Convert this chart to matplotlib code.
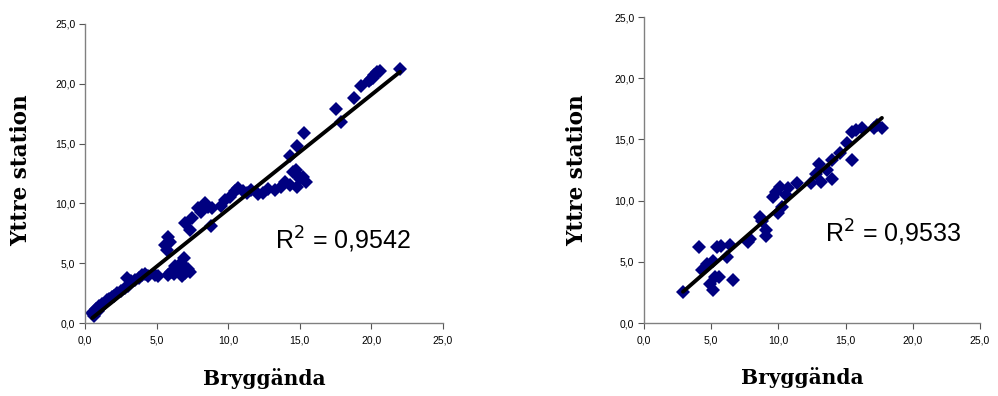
import numpy as np
import matplotlib
matplotlib.use('Agg')
import matplotlib.pyplot as plt

# Avlästa värden, vänster diagram
x1 = [0.5, 0.6, 0.7, 0.8, 0.9, 1.0, 1.1, 1.2, 1.4, 1.5, 1.7, 1.9, 2.0, 2.2, 2.5, 2.8,
      3.0, 2.9, 3.2, 3.5, 3.8, 4.0, 4.2, 4.4, 4.9, 5.1,
      5.6, 5.7, 5.8, 5.9, 5.8, 6.0, 6.2, 6.3, 6.5, 6.7, 6.9, 7.0, 7.2, 7.3, 6.8, 6.6,
      7.0, 7.3, 7.5, 7.9, 8.1, 8.4, 8.6, 8.9, 8.8,
      9.5, 9.8, 10.1, 10.5, 10.7, 11.0, 11.3, 11.6, 12.1, 12.4, 12.8, 13.3, 13.7, 14.0,
      14.3, 14.5, 14.7, 14.9, 15.2, 15.4, 14.8, 15.0,
      14.3, 14.8, 15.3, 17.5, 17.9, 18.8, 19.3, 19.8, 20.2, 20.4, 20.1, 20.0, 20.3, 20.6, 22.0]
y1 = [0.8, 0.6, 0.9, 1.2, 1.0, 1.4, 1.3, 1.6, 1.7, 1.9, 2.0, 2.2, 2.3, 2.5, 2.7, 2.9,
      3.1, 3.8, 3.5, 3.6, 3.8, 4.0, 4.1, 3.9, 4.0, 3.9,
      6.5, 6.1, 7.2, 6.8, 4.0, 4.3, 4.1, 4.8, 4.5, 5.0, 5.4, 4.2, 4.5, 4.3, 3.9, 4.6,
      8.4, 7.8, 8.8, 9.6, 9.3, 10.0, 9.7, 9.6, 8.1,
      9.8, 10.3, 10.5, 11.0, 11.3, 11.0, 10.9, 11.1, 10.8, 10.9, 11.2, 11.1, 11.4, 11.8,
      11.5, 12.6, 12.8, 12.3, 12.2, 11.8, 11.4, 12.0,
      14.0, 14.8, 15.9, 17.9, 16.8, 18.8, 19.8, 20.2, 20.7, 21.0, 20.5, 20.4, 20.8, 21.1, 21.2]

# Avlästa värden, höger diagram
x2 = [2.9, 4.1, 4.3, 4.7, 5.1, 5.1, 4.9, 5.3, 5.6, 5.4, 5.7, 6.4, 6.2, 6.6,
      7.7, 7.9, 8.6, 8.8, 9.1, 9.1, 9.6, 9.8, 10.1, 10.0, 10.3, 10.6, 10.7,
      11.4, 12.4, 12.8, 13.0, 13.2, 13.6, 14.0, 14.0, 14.6, 15.1, 15.5, 15.8,
      15.5, 16.2, 17.1, 17.7, 17.3]
y2 = [2.5, 6.2, 4.3, 4.8, 5.1, 2.7, 3.2, 3.8, 3.8, 6.2, 6.3, 6.4, 5.4, 3.5,
      6.6, 6.9, 8.7, 8.3, 7.6, 7.1, 10.3, 10.7, 11.1, 9.0, 9.5, 10.5, 11.0,
      11.4, 11.4, 12.2, 13.0, 11.5, 12.5, 11.8, 13.3, 13.9, 14.7, 15.6, 15.8,
      13.3, 15.9, 15.9, 15.9, 16.2]

r2_labels = ['0,9542', '0,9533']
ticks = [0, 5, 10, 15, 20, 25]
tick_labels = ['0,0', '5,0', '10,0', '15,0', '20,0', '25,0']

fig = plt.figure(figsize=(9.98, 3.96), dpi=100)
ax1 = fig.add_axes([0.0852, 0.1843, 0.3587, 0.7551])
ax2 = fig.add_axes([0.6453, 0.1843, 0.3367, 0.7727])

serif = ['DejaVu Serif']
sans = ['Liberation Sans', 'DejaVu Sans']

for ax, xs, ys, r2, txt_pos in [
        (ax1, x1, y1, r2_labels[0], (0.53, 0.278)),
        (ax2, x2, y2, r2_labels[1], (0.539, 0.294))]:
    xs = np.array(xs)
    ys = np.array(ys)
    ax.plot(xs, ys, linestyle='none', marker='D', markersize=7.5,
            color='#000080', markeredgewidth=0)
    k, m = np.polyfit(xs, ys, 1)
    xl = np.array([xs.min(), xs.max()])
    ax.plot(xl, k * xl + m, color='black', linewidth=2.8,
            solid_capstyle='round')

    ax.set_xlim(0, 25)
    ax.set_ylim(0, 25)
    ax.set_xticks(ticks)
    ax.set_yticks(ticks)
    ax.set_xticklabels(tick_labels, family=sans, fontsize=7.5)
    ax.set_yticklabels(tick_labels, family=sans, fontsize=7.5)
    ax.tick_params(direction='out', length=4, width=0.8, color='#555555', pad=3)
    ax.tick_params(axis='x', pad=5)
    for s in ['top', 'right']:
        ax.spines[s].set_visible(False)
    for s in ['left', 'bottom']:
        ax.spines[s].set_color('#808080')
        ax.spines[s].set_linewidth(1.0)
    ax.set_facecolor('none')

    ax.text(txt_pos[0], txt_pos[1], 'R$^2$ = ' + r2, transform=ax.transAxes,
            family=sans, fontsize=18, ha='left', va='center')
    ax.set_xlabel('Bryggända', family=serif, fontweight='bold', fontsize=14.5)
    ax.set_ylabel('Yttre station', family=serif, fontweight='bold', fontsize=15.5)

ax1.xaxis.set_label_coords(0.5, -0.15)
ax2.xaxis.set_label_coords(0.47, -0.145)
ax1.yaxis.set_label_coords(-0.148, 0.512)
ax2.yaxis.set_label_coords(-0.167, 0.5)

plt.savefig('out.png', dpi=100)
